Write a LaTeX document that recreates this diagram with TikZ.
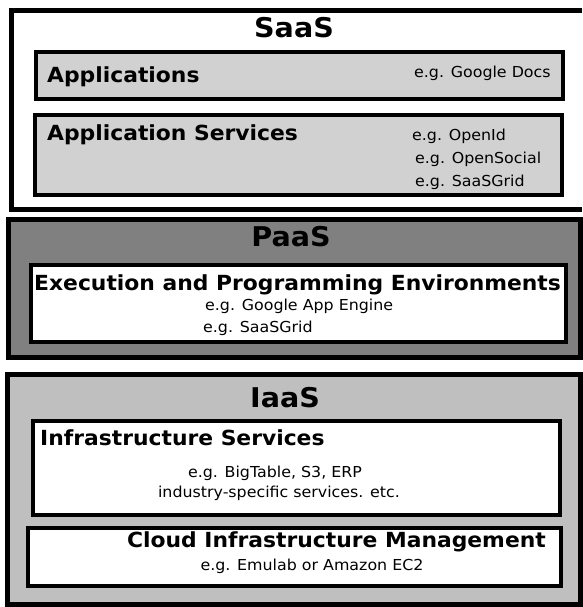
\documentclass[tikz,border=0pt]{standalone}
\usepackage{fontspec}
\setmainfont{DejaVu Sans}[FakeStretch=1.05]
\definecolor{appgray}{gray}{0.82}
\definecolor{paasgray}{gray}{0.5}
\definecolor{iaasgray}{gray}{0.75}

\begin{document}
\begin{tikzpicture}[x=1pt, y=-1pt, line join=miter,
    layer/.style={line width=5pt},
    inner/.style={line width=3.5pt},
    title/.style={font=\fontsize{27.2}{30}\selectfont\bfseries, inner sep=0pt},
    head/.style={font=\fontsize{20.8}{24}\selectfont\bfseries, inner sep=0pt},
    eg/.style={font=\fontsize{15.1}{18}\selectfont, inner sep=0pt}]
    \useasboundingbox (0,0) rectangle (582,607);

    % SaaS 层（右边被截断）
    \draw[layer] (582,11) -- (11,11) -- (11,209) -- (582,209);
    \draw[inner, fill=appgray] (36,52) rectangle (563,99);
    \draw[inner, fill=appgray] (35,115) rectangle (562,195);

    \node[title] (saas) at (294,28) {SaaS};
    \node[head, anchor=west] (apps) at (47,77) {Applications};
    \node[eg, anchor=west] (docs) at (414,73) {e.g. Google Docs};
    \node[head, anchor=west] (appsrv) at (47,135) {Application Services};
    \node[eg, anchor=west] (openid) at (412,136) {e.g. OpenId};
    \node[eg, anchor=west] (opensocial) at (415,159) {e.g. OpenSocial};
    \node[eg, anchor=west] (saasgrid) at (415,182) {e.g. SaaSGrid};

    % PaaS 层
    \draw[layer, fill=paasgray] (8,219) rectangle (580,357);
    \draw[inner, fill=white] (31,265) rectangle (566,342);

    \node[title] (paas) at (291,237) {PaaS};
    \node[head, anchor=west] (exec) at (34,285) {Execution and Programming Environments};
    \node[eg, anchor=west] (gae) at (205,306) {e.g. Google App Engine};
    \node[eg, anchor=west] (paasgrid) at (203,328) {e.g. SaaSGrid};

    % IaaS 层
    \draw[layer, fill=iaasgray] (7,374) rectangle (580,604);
    \draw[inner, fill=white] (33,421) rectangle (560,515);
    \draw[inner, fill=white] (28,528) rectangle (561,586);

    \node[title] (iaas) at (285,398) {IaaS};
    \node[head, anchor=west] (infra) at (40,438) {Infrastructure Services};
    \node[eg] (bigtable) at (275,473) {e.g. BigTable, S3, ERP};
    \node[eg] (industry) at (279,493) {industry-specific services. etc.};
    \node[head, anchor=east] (cim) at (546,542) {Cloud Infrastructure Management};
    \node[eg] (emulab) at (312,566) {e.g. Emulab or Amazon EC2};
\end{tikzpicture}
\end{document}
